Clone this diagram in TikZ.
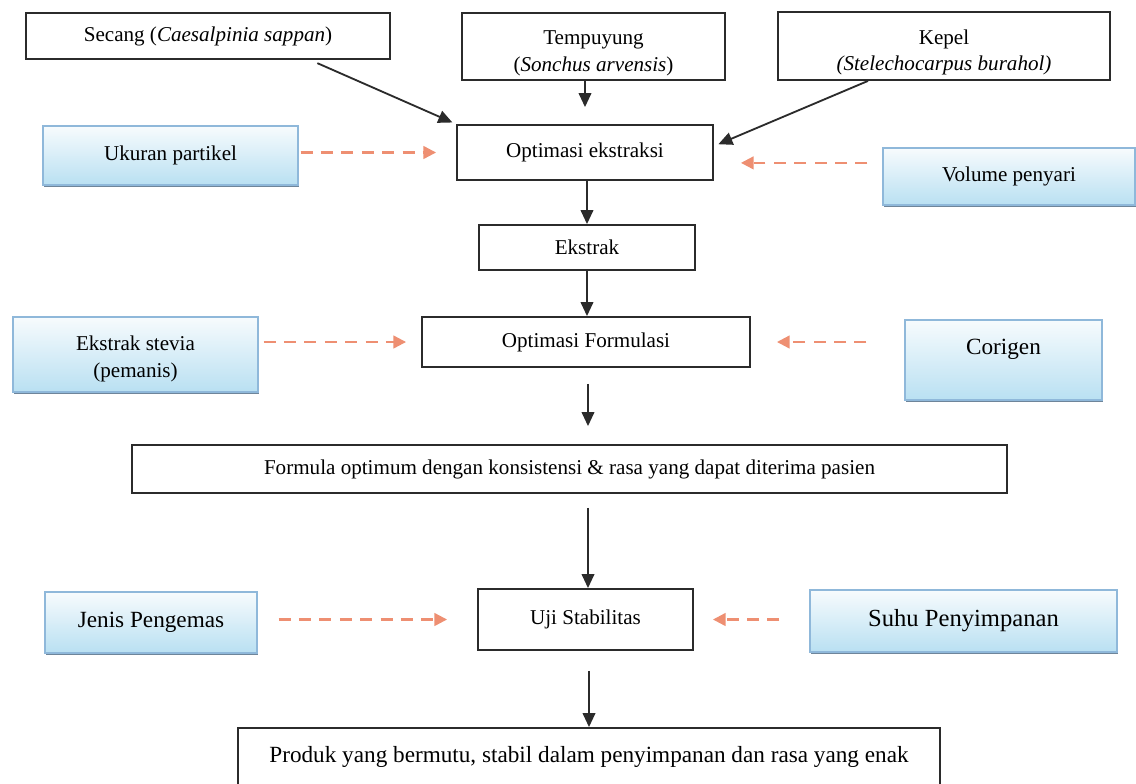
\documentclass[tikz,border=0pt]{standalone}
\usepackage{fontspec}
\setmainfont{Liberation Serif}
\usepackage{tikz}
\usetikzlibrary{positioning, arrows.meta, calc, shadows}
\definecolor{boxline}{HTML}{2b2b2b}
\definecolor{facline}{HTML}{8fb8da}
\definecolor{factop}{HTML}{f7fbfd}
\definecolor{facbot}{HTML}{b9e0f2}
\definecolor{facshadow}{HTML}{5f7890}
\definecolor{salmon}{HTML}{ee8f72}

\begin{document}
\begin{tikzpicture}[
  x=0.025cm, y=-0.025cm,
  font=\fontsize{15}{19}\selectfont,
  box/.style={draw=boxline, line width=1.3pt, fill=white, align=center,
              inner sep=2pt},
  factor/.style={draw=facline, line width=0.8pt, top color=factop,
                 bottom color=facbot, align=center, inner sep=2pt,
                 drop shadow={shadow xshift=1pt, shadow yshift=-1.6pt,
                              fill=facshadow, opacity=0.9}},
  big/.style={font=\fontsize{16.5}{20}\selectfont},
  flow/.style={draw=boxline, line width=1.3pt, -{Triangle[length=10pt, width=9pt]}},
  opt/.style={draw=salmon, line width=1.6pt, dash pattern=on 8.5pt off 6pt,
              -{Triangle[length=9pt, width=9pt]}}
]
\useasboundingbox[fill=white] (0,0) rectangle (1136,783);

% ---- Raw materials ----
\node[box, minimum width=9.1cm, minimum height=1.15cm] (secang) at (208,36)
      {Secang (\textit{Caesalpinia sappan})};
\node[box, minimum width=6.575cm, minimum height=1.675cm,
      text height=1.3cm, text depth=0.06cm] (tempuyung) at (593.5,46.5)
      {Tempuyung\\(\textit{Sonchus arvensis})};
\node[box, minimum width=8.3cm, minimum height=1.7cm,
      text height=1.3cm, text depth=0.06cm] (kepel) at (944,46)
      {Kepel\\\textit{(Stelechocarpus burahol)}};

% ---- Extraction ----
\node[factor, minimum width=6.375cm, minimum height=1.475cm] (ukuran) at (170.5,155.5)
      {Ukuran partikel};
\node[box, minimum width=6.4cm, minimum height=1.375cm] (optekstr) at (585,152.5)
      {Optimasi ekstraksi};
\node[factor, minimum width=6.3cm, minimum height=1.425cm] (volume) at (1009,176.5)
      {Volume penyari};
\node[box, minimum width=5.4cm, minimum height=1.125cm] (ekstrak) at (587,247.5)
      {Ekstrak};

\draw[flow, shorten <=0.2cm, shorten >=0.1cm]
  ([xshift=2.55cm]secang.south) -- (optekstr.north west);
\draw[flow, shorten >=0.425cm] (tempuyung.south -| optekstr.north) -- (optekstr.north);
\draw[flow, shorten >=0.12cm]
  ([xshift=-1.9cm]kepel.south) -- ([yshift=0.16cm]optekstr.east);
\draw[opt, shorten <=0.05cm, shorten >=0.5cm]
  (ukuran.east |- optekstr.west) -- (optekstr.west);
\draw[opt, shorten <=0.375cm, shorten >=0.675cm]
  ([yshift=0.34cm]volume.west) -- ([yshift=0.34cm]volume.west -| optekstr.east);
\draw[flow] (optekstr.south -| ekstrak.north) -- (ekstrak.north);

% ---- Formulation ----
\node[factor, minimum width=6.125cm, minimum height=1.875cm,
      text height=1.2cm, text depth=0.06cm] (stevia) at (135.5,354.5)
      {Ekstrak stevia\\(pemanis)};
\node[box, minimum width=8.2cm, minimum height=1.25cm] (optform) at (586,342)
      {Optimasi Formulasi};
\node[factor, big, minimum width=4.925cm, minimum height=2cm,
      text height=0.45cm, text depth=0.75cm] (corigen) at (1003.5,360)
      {Corigen};
\node[box, minimum width=21.875cm, minimum height=1.2cm] (formula) at (569.5,469)
      {Formula optimum dengan konsistensi \& rasa yang dapat diterima pasien};

\draw[flow] (ekstrak.south) -- (ekstrak.south |- optform.north);
\draw[opt, shorten <=0.125cm, shorten >=0.375cm]
  (stevia.east |- optform.west) -- (optform.west);
\draw[opt, shorten <=0.95cm, shorten >=0.65cm]
  (corigen.west |- optform.east) -- (optform.east);
\draw[flow, shorten <=0.4cm, shorten >=0.45cm]
  ([xshift=0.05cm]optform.south) -- ([xshift=0.05cm]optform.south |- formula.north);

% ---- Stability ----
\node[factor, big, minimum width=5.3cm, minimum height=1.525cm] (jenis) at (151,622.5)
      {Jenis Pengemas};
\node[box, minimum width=5.375cm, minimum height=1.525cm] (uji) at (585.5,619.5)
      {Uji Stabilitas};
\node[factor, font=\fontsize{17.5}{21}\selectfont, minimum width=7.675cm,
      minimum height=1.55cm] (suhu) at (963.5,621)
      {Suhu Penyimpanan};
\node[box, big, minimum width=17.55cm, minimum height=1.45cm] (produk) at (589,757)
      {Produk yang bermutu, stabil dalam penyimpanan dan rasa yang enak};

\draw[flow, shorten <=0.35cm] ([xshift=0.0625cm]uji.north |- formula.south)
  -- ([xshift=0.0625cm]uji.north);
\draw[opt, shorten <=0.525cm, shorten >=0.75cm]
  (jenis.east |- uji.west) -- (uji.west);
\draw[opt, shorten <=0.75cm, shorten >=0.475cm]
  (suhu.west |- uji.east) -- (uji.east);
\draw[flow, shorten <=0.5cm] (uji.south -| produk.north) -- (produk.north);

\end{tikzpicture}
\end{document}
